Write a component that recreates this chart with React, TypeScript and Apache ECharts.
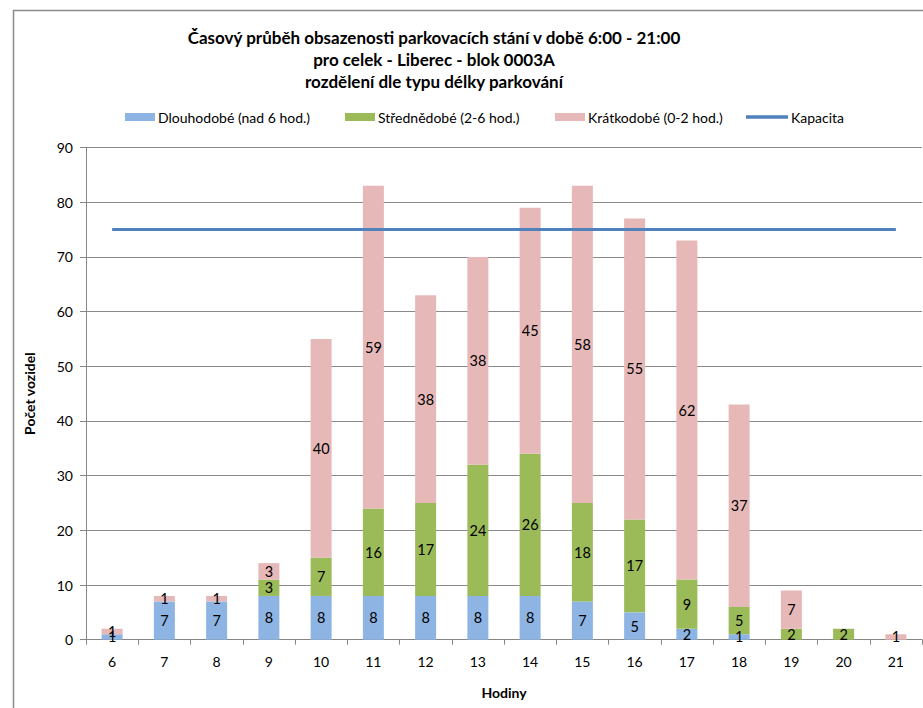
import React, { useEffect, useRef } from "react";
import * as echarts from "echarts";

const hours = ["6", "7", "8", "9", "10", "11", "12", "13", "14", "15", "16", "17", "18", "19", "20", "21"];
const longTerm = [1, 7, 7, 8, 8, 8, 8, 8, 8, 7, 5, 2, 1, 0, 0, 0];
const midTerm = [0, 0, 0, 3, 7, 16, 17, 24, 26, 18, 17, 9, 5, 2, 2, 0];
const shortTerm = [1, 1, 1, 3, 40, 59, 38, 38, 45, 58, 55, 62, 37, 7, 0, 1];
const capacity = [75, 75, 75, 75, 75, 75, 75, 75, 75, 75, 75, 75, 75, 75, 75, 75];
const yTicks = { min: 0, max: 90, interval: 10 };
const titleLines = [
  "Časový průběh obsazenosti parkovacích stání v době 6:00 - 21:00",
  "pro celek - Liberec - blok 0003A",
  "rozdělení dle typu délky parkování",
];
const seriesNames = ["Dlouhodobé (nad 6 hod.)", "Střednědobé (2-6 hod.)", "Krátkodobé (0-2 hod.)", "Kapacita"];

const FONT = "Lato, 'Liberation Sans', sans-serif";

export default function App() {
  const ref = useRef<HTMLDivElement>(null);
  useEffect(() => {
    if (!ref.current) return;
    const chart = echarts.init(ref.current, null, { renderer: "svg" });
    const label = {
      show: true,
      position: "inside",
      color: "#000",
      fontSize: 14.5,
      fontFamily: FONT,
      formatter: (p: any) => (p.value === 0 ? "" : String(p.value)),
    };
    const legendBase = {
      top: 105,
      height: 22,
      itemHeight: 8,
      itemWidth: 30,
      itemGap: 0,
      textStyle: { fontSize: 14, fontFamily: FONT, color: "#000", padding: [0, 0, 0, -2] },
      selectedMode: false,
    };
    chart.setOption({
      animation: false,
      textStyle: { fontFamily: FONT },
      graphic: [
        {
          type: "rect",
          shape: { x: 13.5, y: 10.5, width: 1200, height: 1200 },
          style: { fill: "none", stroke: "#8c8c8c", lineWidth: 1.5 },
          silent: true,
        },
        ...titleLines.map((t, i) => ({
          type: "text",
          x: 434,
          y: [37, 59.5, 81.5][i],
          style: {
            text: t,
            fontSize: 17,
            fontWeight: "bold",
            fontFamily: FONT,
            fill: "#000",
            align: "center",
            verticalAlign: "middle",
          },
        })),
      ],
      legend: [
        { ...legendBase, left: 120, data: [{ name: seriesNames[0], icon: "rect" }] },
        { ...legendBase, left: 340, data: [{ name: seriesNames[1], icon: "rect" }] },
        { ...legendBase, left: 550, data: [{ name: seriesNames[2], icon: "rect" }] },
        {
          ...legendBase,
          left: 741,
          itemWidth: 42,
          itemHeight: 3.5,
          data: [{ name: seriesNames[3], icon: "rect", itemStyle: { color: "#4F81BD" } }],
        },
      ],
      grid: { left: 86, right: 1, top: 147.5, bottom: 68.3, containLabel: false },
      xAxis: {
        type: "category",
        data: hours,
        name: "Hodiny",
        nameLocation: "middle",
        nameGap: 46,
        nameTextStyle: { fontWeight: "bold", fontSize: 14, color: "#000", fontFamily: FONT },
        axisLine: { lineStyle: { color: "#868686", width: 1 } },
        axisTick: { show: true, length: 5, lineStyle: { color: "#868686" } },
        axisLabel: { color: "#000", fontSize: 14, margin: 15, fontFamily: FONT },
      },
      yAxis: {
        type: "value",
        ...yTicks,
        name: "Počet vozidel",
        nameLocation: "middle",
        nameGap: 50,
        nameTextStyle: { fontWeight: "bold", fontSize: 14, color: "#000", fontFamily: FONT },
        axisLine: { show: true, lineStyle: { color: "#868686", width: 1 } },
        axisTick: { show: true, length: 6, lineStyle: { color: "#868686" } },
        axisLabel: { color: "#000", fontSize: 14, margin: 13, fontFamily: FONT },
        splitLine: { lineStyle: { color: "#8a8a8a", width: 1 } },
      },
      series: [
        {
          name: seriesNames[0],
          type: "bar",
          stack: "total",
          data: longTerm,
          barWidth: 21,
          itemStyle: { color: "#8EB4E3" },
          label,
        },
        {
          name: seriesNames[1],
          type: "bar",
          stack: "total",
          data: midTerm,
          barWidth: 21,
          itemStyle: { color: "#9BBB59" },
          label,
        },
        {
          name: seriesNames[2],
          type: "bar",
          stack: "total",
          data: shortTerm,
          barWidth: 21,
          itemStyle: { color: "#E6B9B8" },
          label,
        },
        {
          name: seriesNames[3],
          type: "line",
          data: capacity,
          symbol: "none",
          lineStyle: { color: "#4F81BD", width: 3 },
          itemStyle: { color: "#4F81BD" },
          z: 5,
        },
      ],
    });
    return () => chart.dispose();
  }, []);
  return (
    <div
      ref={ref}
      style={{ position: "absolute", left: 0, top: 0, width: 923, height: 708, background: "#fff" }}
    />
  );
}
